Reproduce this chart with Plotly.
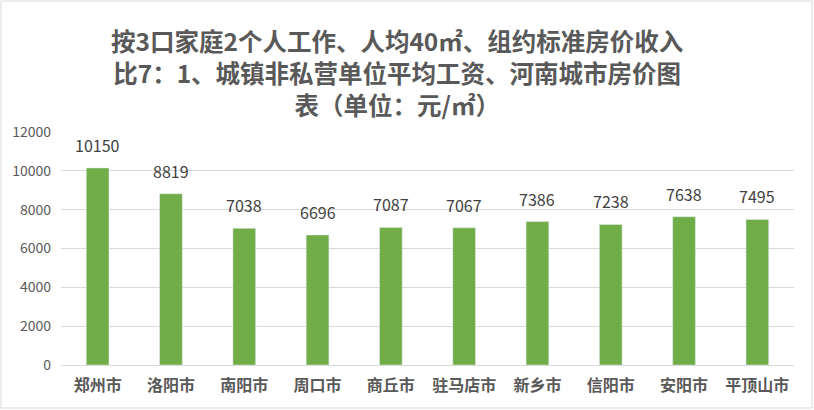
import plotly.graph_objects as go

# 河南城市房价数据 (元/㎡)
cities = ["郑州市", "洛阳市", "南阳市", "周口市", "商丘市",
          "驻马店市", "新乡市", "信阳市", "安阳市", "平顶山市"]
prices = [10150, 8819, 7038, 6696, 7087, 7067, 7386, 7238, 7638, 7495]
y_ticks = [0, 2000, 4000, 6000, 8000, 10000, 12000]

title_lines = ["按3口家庭2个人工作、人均40㎡、组约标准房价收入",
               "比7：1、城镇非私营单位平均工资、河南城市房价图",
               "表（单位：元/㎡）"]

fig = go.Figure()
fig.add_trace(go.Bar(
    x=cities,
    y=prices,
    marker_color="#70ad47",
    cliponaxis=False,
))

# 数据标签
for c, p in zip(cities, prices):
    fig.add_annotation(x=c, y=p, text=str(p), showarrow=False,
                       yanchor="bottom", yshift=9,
                       font=dict(size=16, color="#404040", family="Noto Sans CJK SC"))

fig.update_layout(
    width=814, height=410,
    margin=dict(l=61, r=20, t=132, b=45),
    paper_bgcolor="white",
    plot_bgcolor="white",
    bargap=0.69,
    showlegend=False,
    font=dict(family="Noto Sans CJK SC", color="#595959"),
)

# 标题
fig.add_annotation(text="<br>".join(title_lines), xref="paper", yref="paper",
                   x=(397 - 61) / 733, y=1 + (132 - 72) / 233,
                   xanchor="center", yanchor="middle", align="center", showarrow=False,
                   font=dict(size=24.5, color="#595959", family="Noto Sans CJK SC", weight="bold"))

fig.update_yaxes(range=[0, 12000], tickvals=y_ticks, ticktext=[str(v) for v in y_ticks],
                 showgrid=True, gridcolor="#d9d9d9",
                 zeroline=False, showline=False, ticks="", ticklen=0,
                 ticklabelstandoff=9,
                 tickfont=dict(size=14, color="#595959"))
fig.update_xaxes(showline=True, linecolor="#d9d9d9", ticks="",
                 ticklabelstandoff=6,
                 tickfont=dict(size=16, color="#595959", weight="bold"))

# 外框
fig.add_shape(type="rect", xref="paper", yref="paper",
              x0=-60/733, x1=1 + 18/733, y0=-43/233, y1=1 + 131/233,
              line=dict(color="#d9d9d9", width=1))

fig.write_html("out.html", config={"displayModeBar": False},
               post_script="document.body.style.margin='0';")
